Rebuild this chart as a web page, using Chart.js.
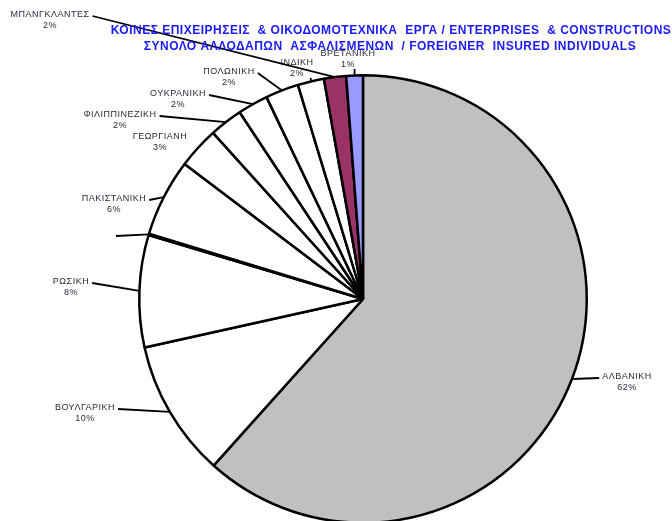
<!DOCTYPE html>
<html lang="en">
<head>
    <meta charset="UTF-8">
    <title>Foreigner Insured Individuals</title>
    <style>
        html, body {
            margin: 0;
            padding: 0;
            background: #fff;
            overflow: hidden;
        }
        #pie {
            display: block;
        }
    </style>
</head>
<body>
    <canvas id="pie" width="672" height="530"></canvas>

    <script src="https://cdn.jsdelivr.net/npm/chart.js"></script>
    <script>
        // slices, clockwise from 12 o'clock
        const categories = ['ΑΛΒΑΝΙΚΗ', 'ΒΟΥΛΓΑΡΙΚΗ', 'ΡΩΣΙΚΗ', '', 'ΠΑΚΙΣΤΑΝΙΚΗ', 'ΓΕΩΡΓΙΑΝΗ',
            'ΦΙΛΙΠΠΙΝΕΖΙΚΗ', 'ΟΥΚΡΑΝΙΚΗ', 'ΠΟΛΩΝΙΚΗ', 'ΙΝΔΙΚΗ', 'ΜΠΑΝΓΚΛΑΝΤΕΣ', 'ΒΡΕΤΑΝΙΚΗ'];
        const shares = [61.7, 9.9, 8.1, 0.1, 5.6, 3.0, 2.4, 2.2, 2.4, 1.9, 1.6, 1.2];
        const pctLabels = ['62%', '10%', '8%', '', '6%', '3%', '2%', '2%', '2%', '2%', '2%', '1%'];
        const titleLines = [
            'ΚΟΙΝΕΣ ΕΠΙΧΕΙΡΗΣΕΙΣ  & ΟΙΚΟΔΟΜΟΤΕΧΝΙΚΑ  ΕΡΓΑ / ENTERPRISES  & CONSTRUCTIONS',
            'ΣΥΝΟΛΟ ΑΛΛΟΔΑΠΩΝ  ΑΣΦΑΛΙΣΜΕΝΩΝ  / FOREIGNER  INSURED INDIVIDUALS'
        ];

        const sliceColors = ['#c0c0c0', '#ffffff', '#ffffff', '#ffffff', '#ffffff', '#ffffff',
            '#ffffff', '#ffffff', '#ffffff', '#ffffff', '#993366', '#9999ff'];

        // where each label's text sits (centre of its first line)
        const labelSpots = [[627, 377], [85, 408], [71, 282], [116, 236], [114, 199], [160, 137],
            [120, 115], [178, 94], [229, 72], [297, 63], [50, 15], [348, 54]];
        const noLeader = [5];

        const labelPlugin = {
            id: 'labelPlugin',
            afterDatasetsDraw(chart) {
                const ctx = chart.ctx;
                const meta = chart.getDatasetMeta(0);
                ctx.save();
                ctx.font = '9px "Liberation Sans", Arial, sans-serif';
                ctx.letterSpacing = '0.5px';
                ctx.textAlign = 'center';
                ctx.textBaseline = 'middle';

                meta.data.forEach((arc, i) => {
                    const p = arc.getProps(['x', 'y', 'startAngle', 'endAngle', 'outerRadius'], true);
                    const mid = (p.startAngle + p.endAngle) / 2;
                    const ax = p.x + Math.cos(mid) * p.outerRadius;
                    const ay = p.y + Math.sin(mid) * p.outerRadius;
                    const [tx, ty] = labelSpots[i];
                    const name = categories[i];
                    const pct = pctLabels[i];
                    const half = Math.max(ctx.measureText(name).width, ctx.measureText(pct).width) / 2;

                    // leader line
                    if (!noLeader.includes(i)) {
                        let sx, sy;
                        if (!name) {
                            sx = tx; sy = ty;
                        } else if (Math.abs(ax - tx) < half) {
                            sx = ax; sy = ty + 15;
                        } else if (ax > tx) {
                            sx = tx + half + 3; sy = ty + 1;
                        } else {
                            sx = tx - half - 3; sy = ty + 1;
                        }
                        ctx.strokeStyle = '#000';
                        ctx.lineWidth = 1.8;
                        ctx.beginPath();
                        ctx.moveTo(sx, sy);
                        ctx.lineTo(ax, ay);
                        ctx.stroke();
                    }

                    ctx.fillStyle = '#2a2a3a';
                    ctx.fillText(name, tx, ty);
                    ctx.fillText(pct, tx, ty + 11);
                });

                // title
                ctx.fillStyle = '#1a1aff';
                ctx.font = 'bold 12px "Liberation Sans", Arial, sans-serif';
                ctx.letterSpacing = '0.5px';
                ctx.fillText(titleLines[0], 391, 31);
                ctx.fillText(titleLines[1], 390, 47);
                ctx.restore();
            }
        };

        new Chart(document.getElementById('pie'), {
            type: 'pie',
            data: {
                labels: categories,
                datasets: [{
                    data: shares,
                    backgroundColor: sliceColors,
                    borderColor: '#000',
                    borderWidth: 2.5
                }]
            },
            options: {
                responsive: false,
                animation: false,
                layout: {
                    padding: { left: 138, right: 84, top: 74, bottom: 6 }
                },
                plugins: {
                    legend: { display: false },
                    tooltip: { enabled: false }
                }
            },
            plugins: [labelPlugin]
        });
    </script>
</body>
</html>
